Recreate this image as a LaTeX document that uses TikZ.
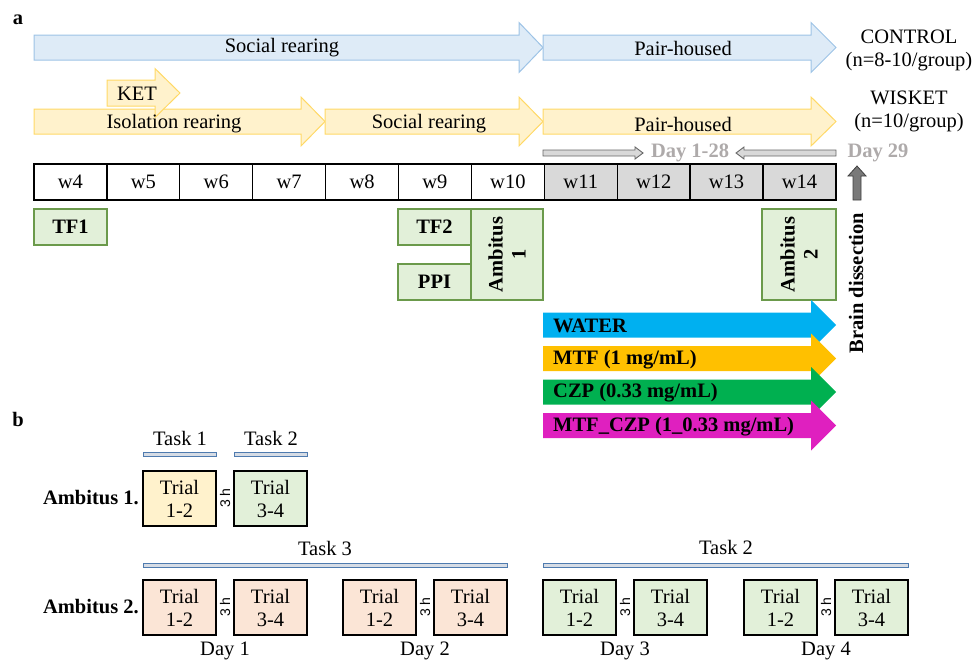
\documentclass[tikz,border=0pt]{standalone}
\usepackage{fontspec}
\setmainfont{Liberation Serif}
\newfontfamily\sansf{Liberation Sans}
\definecolor{bluefill}{HTML}{DEEBF7}
\definecolor{blueline}{HTML}{9DC3E6}
\definecolor{yelfill}{HTML}{FFF2CC}
\definecolor{yelline}{HTML}{FFD966}
\definecolor{grnfill}{HTML}{E2F0D9}
\definecolor{grnline}{HTML}{6B9A4B}
\definecolor{peach}{HTML}{FBE5D6}
\definecolor{wgray}{HTML}{D9D9D9}
\definecolor{daygray}{HTML}{AEAAAA}
\definecolor{cwater}{HTML}{00B0F0}
\definecolor{cmtf}{HTML}{FFC000}
\definecolor{cczp}{HTML}{00B050}
\definecolor{cmix}{HTML}{DF20BF}
\definecolor{barfill}{HTML}{D6DCE5}
\definecolor{barline}{HTML}{4F7BAF}
\newcommand{\blockarrow}[7]{\path[#1] (#2,{#5-#6}) -- (#3,{#5-#6}) -- (#3,{#5-#7}) -- (#4,#5) -- (#3,{#5+#7}) -- (#3,{#5+#6}) -- (#2,{#5+#6}) -- cycle;}
\tikzset{
  txt/.style={font=\fontsize{20.5}{23}\selectfont, inner sep=0pt},
  btxt/.style={font=\fontsize{20.5}{23}\selectfont\bfseries, inner sep=0pt},
  week/.style={draw=black, line width=1.3pt, minimum width=72.9pt, minimum height=36pt, inner sep=0pt, font=\fontsize{20.5}{23}\selectfont},
  gbox/.style={draw=grnline, fill=grnfill, line width=1.1pt, inner sep=0pt, font=\fontsize{20.5}{23}\selectfont\bfseries, align=center},
  trial/.style={draw=black, line width=1.1pt, minimum width=73pt, minimum height=55pt, inner sep=0pt, align=center, font=\fontsize{20.5}{23}\selectfont},
  hr/.style={rotate=90, inner sep=0pt, font=\sansf\fontsize{14}{16}\selectfont},
  taskbar/.style={draw=barline, fill=barfill, line width=0.8pt},
  bluearr/.style={fill=bluefill, draw=blueline, line width=1pt},
  yelarr/.style={fill=yelfill, draw=yelline, line width=1pt},
  dayarr/.style={fill=wgray, draw=gray!80!black, line width=0.9pt},
}
\begin{document}
\begin{tikzpicture}[x=1pt,y=-1pt]
\useasboundingbox (0,0) rectangle (974,662);
% labels
\node[btxt] (la) at (18,20) {a};
\node[btxt] (lb) at (18,419) {b};
% blue row
\blockarrow{bluearr}{34}{519}{543}{47.5}{12.5}{25}
\blockarrow{bluearr}{543}{811}{836}{47.5}{12.5}{25}
\node[txt] (bsoc) at (282,48) {Social rearing};
\node[txt] (bpair) at (683,48) {Pair-housed};
% yellow row
\blockarrow{yelarr}{34}{301}{325}{121.5}{12.5}{24.5}
\blockarrow{yelarr}{325}{519}{543}{121.5}{12.5}{24.5}
\blockarrow{yelarr}{543}{811}{836}{121.5}{12.5}{24.5}
\blockarrow{yelarr}{107}{155}{180}{93}{13}{24.5}
\node[txt] (ket) at (137,94) {KET};
\node[txt] (iso) at (174,124) {Isolation rearing};
\node[txt] (ysoc) at (429,124) {Social rearing};
\node[txt] (ypair) at (683,124) {Pair-housed};
% groups
\node[txt] (ctrl) at (909,37) {CONTROL};
\node[txt] (ctrln) at (909,62) {(n=8-10/group)};
\node[txt] (wis) at (909,98) {WISKET};
\node[txt] (wisn) at (909,123) {(n=10/group)};
% day arrows
\blockarrow{dayarr}{543}{635}{643}{153}{3}{6}
\blockarrow{dayarr}{836}{744}{736}{153}{3}{6}
\node[btxt, text=daygray] (d128) at (690,153) {Day 1-28};
\node[btxt, text=daygray] (d29) at (878,153) {Day 29};
% weeks
\foreach \i [count=\k from 0] in {4,...,10}
  \node[week] (w\i) at ({34+72.9*\k+36.45},182) {w\i};
\foreach \i [count=\k from 7] in {11,...,14}
  \node[week, fill=wgray] (w\i) at ({34+72.9*\k+36.45},182) {w\i};
% brain arrow
\path[fill=gray!95!black, draw=black!75, line width=0.8pt] (857,166) -- (866,176) -- (861,176) -- (861,200) -- (853,200) -- (853,176) -- (848,176) -- cycle;
\node[btxt, rotate=90] (brain) at (856,283) {Brain dissection};
% tests
\node[gbox, minimum width=73pt, minimum height=36pt] (tf1) at (70.5,227) {TF1};
\node[gbox, minimum width=73pt, minimum height=36pt] (tf2) at (434.5,227) {TF2};
\node[gbox, minimum width=73pt, minimum height=36pt] (ppi) at (434.5,282) {PPI};
\node[gbox, rotate=90, minimum width=91pt, minimum height=72pt] (amb1) at (507,254.5) {Ambitus\\1};
\node[gbox, rotate=90, minimum width=91pt, minimum height=74pt] (amb2) at (799,254.5) {Ambitus\\2};
% drug arrows
\blockarrow{fill=cwater}{543}{811}{836}{325}{12.5}{25}
\blockarrow{fill=cmtf}{543}{811}{836}{358.5}{12.5}{25}
\blockarrow{fill=cczp}{543}{811}{836}{392}{12.5}{25}
\blockarrow{fill=cmix}{543}{811}{836}{425.5}{12.5}{25}
\node[btxt, anchor=west] (water) at (553,326) {WATER};
\node[btxt, anchor=west] (mtf) at (553,359.5) {MTF (1 mg/mL)};
\node[btxt, anchor=west] (czp) at (553,393) {CZP (0.33 mg/mL)};
\node[btxt, anchor=west] (mix) at (553,426.5) {MTF\_CZP (1\_0.33 mg/mL)};
% ---------- part b
\node[txt] (t1) at (180,438) {Task 1};
\node[txt] (t2) at (271,438) {Task 2};
\draw[taskbar] (143,452.5) rectangle (216,456.5);
\draw[taskbar] (234,452.5) rectangle (307,456.5);
\node[btxt, anchor=east] (am1) at (139,498) {Ambitus 1.};
\node[trial, fill=yelfill] (a1t1) at (179.5,498.5) {Trial\\1-2};
\node[trial, fill=grnfill] (a1t2) at (270.5,498.5) {Trial\\3-4};
\node[hr] (h1) at (225,498) {3 h};
\node[txt] (t3) at (325,548) {Task 3};
\node[txt] (t2b) at (726,547) {Task 2};
\draw[taskbar] (143,563) rectangle (507,567);
\draw[taskbar] (543,563) rectangle (908,567);
\node[btxt, anchor=east] (am2) at (139,607) {Ambitus 2.};
\foreach \xa/\xb/\col/\d/\nm in {143/234/peach/1/a, 343/434/peach/2/b, 543/634/grnfill/3/c, 744/835/grnfill/4/d}{
  \node[trial, fill=\col] (\nm1) at ({\xa+36.5},607.5) {Trial\\1-2};
  \node[trial, fill=\col] (\nm2) at ({\xb+36.5},607.5) {Trial\\3-4};
  \node[hr] (\nm h) at ({(\xa+73+\xb)/2},607) {3 h};
  \node[txt] (\nm day) at ({(\xa+\xb+73)/2},651) {Day \d};
}
\end{tikzpicture}
\end{document}
